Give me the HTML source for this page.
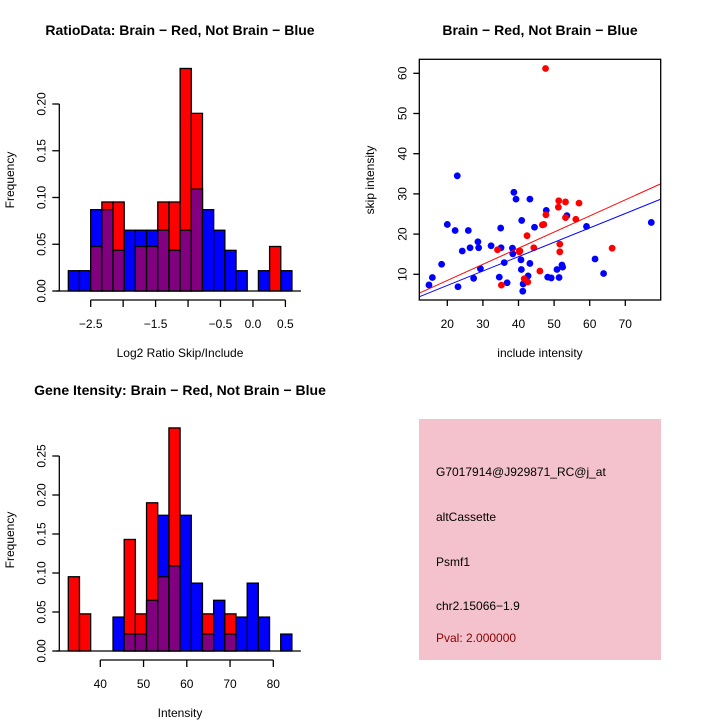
<!DOCTYPE html>
<html><head><meta charset="utf-8"><style>
body{margin:0;background:#fff;}
svg{display:block;font-family:"Liberation Sans",sans-serif;}
</style></head><body>
<svg id="c" width="720" height="720" viewBox="0 0 720 720">
<rect width="720" height="720" fill="#fff"/>
<text x="180" y="35" text-anchor="middle" font-size="14" font-weight="bold">RatioData: Brain − Red, Not Brain − Blue</text>
<text x="540" y="35" text-anchor="middle" font-size="14" font-weight="bold">Brain − Red, Not Brain − Blue</text>
<text x="180" y="395" text-anchor="middle" font-size="14" font-weight="bold">Gene Itensity: Brain − Red, Not Brain − Blue</text>
<text x="180" y="357" text-anchor="middle" font-size="12">Log2 Ratio Skip/Include</text>
<text transform="translate(14,180) rotate(-90)" text-anchor="middle" font-size="12">Frequency</text>
<text x="540" y="357" text-anchor="middle" font-size="12">include intensity</text>
<text transform="translate(374,180) rotate(-90)" text-anchor="middle" font-size="12">skip intensity</text>
<text x="180" y="717" text-anchor="middle" font-size="12">Intensity</text>
<text transform="translate(14,540) rotate(-90)" text-anchor="middle" font-size="12">Frequency</text>
<g id="p1"></g>
<g id="p2"></g>
<g id="p3"></g>
<g>
<rect x="419" y="419" width="242" height="241" fill="#f4c2cd"/>
<text x="436" y="476" font-size="12">G7017914@J929871_RC@j_at</text>
<text x="436" y="521" font-size="12">altCassette</text>
<text x="436" y="566" font-size="12">Psmf1</text>
<text x="436" y="610" font-size="12">chr2.15066−1.9</text>
<text x="436" y="642" font-size="12" fill="#8b0000">Pval: 2.000000</text>
</g>
</svg>
<script>
// Ratio histogram data
const ratioStart = -2.845, ratioWidth = 0.1723;
const ratioBlue = [0.0217,0.0217,0.087,0.087,0.0435,0.065,0.065,0.065,0.065,0.0435,0.065,0.109,0.087,0.065,0.0435,0.0217,0,0.0217,0,0.0217];
const ratioRed  = [0,0,0.0476,0.0952,0.0952,0,0.0476,0.0476,0.0952,0.0952,0.238,0.190,0,0,0,0,0,0,0.0476,0];
const ratioXTicks = [-2.5,-2.0,-1.5,-1.0,-0.5,0.0,0.5];
const ratioXLabels = ["−2.5","","−1.5","","−0.5","0.0","0.5"];
const ratioYTicks = [0,0.05,0.10,0.15,0.20];
const ratioYLabels = ["0.00","0.05","0.10","0.15","0.20"];
// Intensity histogram data
const intStart = 32.6, intWidth = 2.585;
const intBlue = [0,0,0,0,0.0435,0.0217,0.0217,0.065,0.174,0.109,0.174,0.087,0.0217,0.065,0.0217,0.0435,0.087,0.0435,0,0.0217];
const intRed  = [0.0952,0.0476,0,0,0,0.143,0.0476,0.190,0.0952,0.286,0,0,0.0476,0,0.0476,0,0,0,0,0];
const intXTicks = [40,50,60,70,80];
const intYTicks = [0,0.05,0.10,0.15,0.20,0.25];
const intYLabels = ["0.00","0.05","0.10","0.15","0.20","0.25"];
// Scatter data
const blueX = [14.85,15.8,18.4,20.0,22.2,22.8,23.0,24.2,25.9,26.4,27.4,28.6,28.8,29.3,32.3,34.6,35.0,35.1,36.0,36.8,38.3,38.4,38.7,39.3,40.9,40.7,40.8,41.2,41.3,42.7,43.2,43.2,44.5,47.8,48.2,49.2,50.8,51.4,52.2,52.4,53.6,59.1,61.5,63.9,77.3];
const blueY = [7.35,9.2,12.5,22.4,20.9,34.5,6.9,15.8,20.9,16.6,9.0,18.1,16.6,11.4,17.1,9.3,21.5,16.6,12.9,7.9,16.5,15.1,30.4,28.7,23.4,13.6,11.2,5.8,7.6,9.6,28.7,12.7,21.7,25.9,9.3,9.1,11.2,9.2,12.3,11.8,24.6,21.9,13.8,10.2,22.9];
const redX = [47.6,47.7,46.7,47.1,42.4,34.1,35.2,40.4,40.2,41.6,42.6,44.3,46.0,51.3,51.2,51.6,51.6,53.2,53.2,57.0,56.1,66.3];
const redY = [61.2,24.8,22.3,22.4,19.6,16.1,7.3,15.8,15.6,8.9,8.1,16.6,10.8,28.3,26.7,17.5,15.6,28.0,24.1,27.7,23.7,16.5];
const redFit = [0.45,0.401];   // intercept, slope
const blueFit = [0.07,0.358];
const scXTicks = [20,30,40,50,60,70];
const scYTicks = [10,20,30,40,50,60];

const NS="http://www.w3.org/2000/svg";
function mk(parent,tag,attrs){const e=document.createElementNS(NS,tag);for(const k in attrs)e.setAttribute(k,attrs[k]);parent.appendChild(e);return e;}

function hist(g, start, width, blue, red, sx, sy, xt, xl, yt, yl, xAxisY, yAxisX, tickLabelY){
  for(let i=0;i<blue.length;i++){
    const x0=sx(start+i*width), x1=sx(start+(i+1)*width);
    const b=blue[i], r=red[i];
    const hi=Math.max(b,r), lo=Math.min(b,r);
    if(hi<=0) continue;
    const top=mk(g,'rect',{x:x0,y:sy(hi),width:x1-x0,height:sy(0)-sy(hi),fill:(r>b?'#ff0000':'#0000ff'),stroke:'#000','stroke-width':1.3});
    
    
    if(lo>0){
      const ov=mk(g,'rect',{x:x0,y:sy(lo),width:x1-x0,height:sy(0)-sy(lo),fill:'#800080',stroke:'#000','stroke-width':1.3});
      
      
    }
  }
  mk(g,'line',{x1:sx(start)-12,x2:sx(start+blue.length*width)+9,y1:sy(0),y2:sy(0),stroke:'#000','stroke-width':1.3});
  const xa=mk(g,'g',{});
  
  
  mk(xa,'line',{x1:sx(xt[0]),x2:sx(xt[xt.length-1]),y1:xAxisY,y2:xAxisY,stroke:'#000','stroke-width':1.3});
  xt.forEach((v,i)=>{
    mk(xa,'line',{x1:sx(v),x2:sx(v),y1:xAxisY,y2:xAxisY+7,stroke:'#000','stroke-width':1.3});
    if(xl[i]){const t=mk(xa,'text',{x:sx(v),y:tickLabelY,'text-anchor':'middle','font-size':12});t.textContent=xl[i];}
  });
  const ya=mk(g,'g',{});
  
  
  mk(ya,'line',{x1:yAxisX,x2:yAxisX,y1:sy(yt[0]),y2:sy(yt[yt.length-1]),stroke:'#000','stroke-width':1.3});
  yt.forEach((v,i)=>{
    mk(ya,'line',{x1:yAxisX,x2:yAxisX-7,y1:sy(v),y2:sy(v),stroke:'#000','stroke-width':1.3});
    const t=mk(ya,'text',{transform:`translate(${yAxisX-14},${sy(v)}) rotate(-90)`,'text-anchor':'middle','font-size':12});t.textContent=yl[i];
  });
}

{
  const sx=v=>90.7+(v+2.5)*64.9, sy=v=>291-v*(187/0.2);
  hist(document.getElementById('p1'),ratioStart,ratioWidth,ratioBlue,ratioRed,sx,sy,ratioXTicks,ratioXLabels,ratioYTicks,ratioYLabels,300,59.3,328);
}
{
  const sx=v=>100.3+(v-40)*4.325, sy=v=>651-v*(195/0.25);
  hist(document.getElementById('p3'),intStart,intWidth,intBlue,intRed,sx,sy,intXTicks,intXTicks.map(String),intYTicks,intYLabels,660,59.3,688);
}
{
  const g=document.getElementById('p2');
  const sx=v=>447.3+(v-20)*3.56, sy=v=>274.3-(v-10)*4.02;
  const L=419.3,R=660.7,T=59.3,B=300;
  const clip=mk(g,'clipPath',{id:'sc'});mk(clip,'rect',{x:L,y:T,width:R-L,height:B-T});
  const pts=mk(g,'g',{});
  
  
  blueX.forEach((x,i)=>{const c=mk(pts,'circle',{cx:sx(x),cy:sy(blueY[i]),r:3.4,fill:'#0000ff'});
    
    });
  redX.forEach((x,i)=>{const c=mk(pts,'circle',{cx:sx(x),cy:sy(redY[i]),r:3.4,fill:'#ff0000'});
    
    });
  const xa=12, xb=80;
  const rl=mk(g,'line',{x1:sx(xa),y1:sy(redFit[0]+redFit[1]*xa),x2:sx(xb),y2:sy(redFit[0]+redFit[1]*xb),stroke:'#ff0000','stroke-width':1,'clip-path':'url(#sc)'});
  
  
  const bl=mk(g,'line',{x1:sx(xa),y1:sy(blueFit[0]+blueFit[1]*xa),x2:sx(xb),y2:sy(blueFit[0]+blueFit[1]*xb),stroke:'#0000ff','stroke-width':1,'clip-path':'url(#sc)'});
  
  
  mk(g,'rect',{x:L,y:T,width:R-L,height:B-T,fill:'none',stroke:'#000','stroke-width':1.3});
  scXTicks.forEach(v=>{mk(g,'line',{x1:sx(v),x2:sx(v),y1:B,y2:B+6,stroke:'#000','stroke-width':1.3});
    const t=mk(g,'text',{x:sx(v),y:328,'text-anchor':'middle','font-size':12});t.textContent=v;});
  scYTicks.forEach(v=>{mk(g,'line',{x1:L,x2:L-6,y1:sy(v),y2:sy(v),stroke:'#000','stroke-width':1.3});
    const t=mk(g,'text',{transform:`translate(${L-13},${sy(v)}) rotate(-90)`,'text-anchor':'middle','font-size':12});t.textContent=v;});
}
</script>
</body></html>
